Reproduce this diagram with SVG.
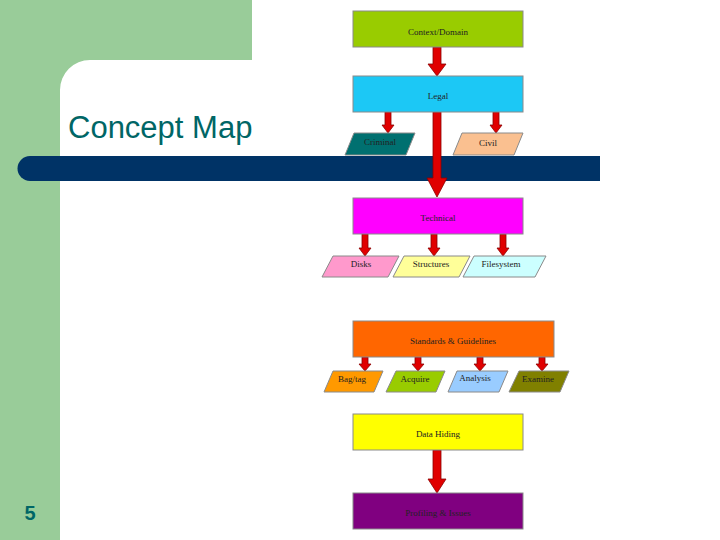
<svg xmlns="http://www.w3.org/2000/svg" width="720" height="540" viewBox="0 0 720 540">
<style>
.box{stroke:#8a8a8a;stroke-width:1}
.t{font-family:"Liberation Serif",serif;font-size:9px;text-anchor:middle;fill:#222}
.ar{fill:#e00000;stroke:#8b0000;stroke-width:0.8}
</style>
<rect width="720" height="540" fill="#fff"/>
<path d="M0 0H252V60H90A30 30 0 0 0 60 90V540H0Z" fill="#99cc99"/>
<path d="M30 156H600V181H30A12.5 12.5 0 0 1 30 156Z" fill="#003366"/>
<text x="68" y="138" font-family="Liberation Sans,Arial,sans-serif" font-size="31" fill="#006666">Concept Map</text>
<text x="30" y="520" font-family="Liberation Sans,Arial,sans-serif" font-size="20" font-weight="bold" fill="#006666" text-anchor="middle">5</text>
<g id="connectors">
<path class="ar" d="M433 47h8v17h5l-9 12-9-12h5z"/>
<path class="ar" d="M385 112h6v13h3l-6 8-6-8h3z"/>
<path class="ar" d="M493 112h6v13h3l-6 8-6-8h3z"/>
<path class="ar" d="M433 112h8v66h6l-10 19-10-19h6z"/>
<path class="ar" d="M362 234h6v14h3l-6 8-6-8h3z"/>
<path class="ar" d="M431 234h6v14h3l-6 8-6-8h3z"/>
<path class="ar" d="M500 234h6v14h3l-6 8-6-8h3z"/>
<path class="ar" d="M362 357h6v7h3l-6 7-6-7h3z"/>
<path class="ar" d="M415 357h6v7h3l-6 7-6-7h3z"/>
<path class="ar" d="M477 357h6v7h3l-6 7-6-7h3z"/>
<path class="ar" d="M539 357h6v7h3l-6 7-6-7h3z"/>
<path class="ar" d="M433 450h8v29h5l-9 14-9-14h5z"/>
</g>
<g id="context"><rect class="box" x="353" y="11" width="170" height="36" fill="#99cc00"/><text class="t" x="438" y="35">Context/Domain</text></g>
<g id="legal"><rect class="box" x="353" y="76" width="170" height="36" fill="#1cc8f5"/><text class="t" x="438" y="99">Legal</text></g>
<g id="criminal"><path class="box" d="M354 133H415L406 155H345Z" fill="#007070"/><text class="t" x="380" y="145">Criminal</text></g>
<g id="civil"><path class="box" d="M462 133H523L514 155H453Z" fill="#fac090"/><text class="t" x="488" y="146">Civil</text></g>
<g id="technical"><rect class="box" x="353" y="198" width="170" height="36" fill="#ff00ff"/><text class="t" x="438" y="221">Technical</text></g>
<g id="disks"><path class="box" d="M333 256H399L388 277H322Z" fill="#ff99cc"/><text class="t" x="361" y="267">Disks</text></g>
<g id="structures"><path class="box" d="M404 256H470L459 277H393Z" fill="#ffff99"/><text class="t" x="431" y="267">Structures</text></g>
<g id="filesystem"><path class="box" d="M474 256H546L535 277H463Z" fill="#ccffff"/><text class="t" x="501" y="267">Filesystem</text></g>
<g id="standards"><rect class="box" x="353" y="321" width="201" height="36" fill="#ff6600"/><text class="t" x="453" y="344">Standards &amp; Guidelines</text></g>
<g id="bagtag"><path class="box" d="M333 371H383L374 392H324Z" fill="#ff9900"/><text class="t" x="352" y="382">Bag/tag</text></g>
<g id="acquire"><path class="box" d="M396 371H445L436 392H386Z" fill="#99cc00"/><text class="t" x="415" y="382">Acquire</text></g>
<g id="analysis"><path class="box" d="M457 371H508L499 392H448Z" fill="#99ccff"/><text class="t" x="475" y="381">Analysis</text></g>
<g id="examine"><path class="box" d="M519 371H569L560 392H509Z" fill="#808000"/><text class="t" x="538" y="382">Examine</text></g>
<g id="datahiding"><rect class="box" x="353" y="414" width="170" height="36" fill="#ffff00"/><text class="t" x="438" y="437">Data Hiding</text></g>
<g id="profiling"><rect class="box" x="353" y="493" width="170" height="36" fill="#800080"/><text class="t" x="438" y="516">Profiling &amp; Issues</text></g>
</svg>
